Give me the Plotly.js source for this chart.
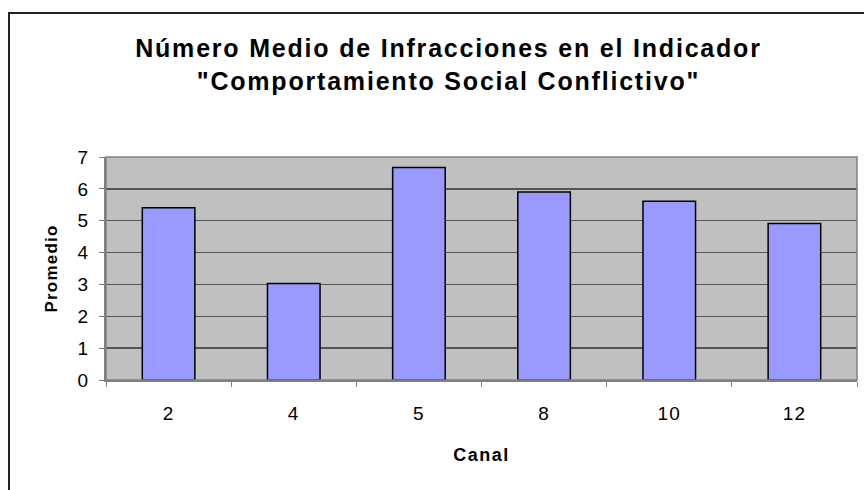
<!DOCTYPE html>
<html>
<head>
<meta charset="utf-8">
<script src="https://cdn.plot.ly/plotly-3.0.1.min.js"></script>
<style>
html,body{margin:0;padding:0;background:#fff;}
#chart{width:864px;height:490px;}
#chart .gtitle{letter-spacing:1.8px;}
#chart .xtick text,#chart .ytick text{letter-spacing:1.2px;}
#chart .xtitle{letter-spacing:1.5px;}
#chart .ytitle{letter-spacing:1.2px;}
</style>
</head>
<body>
<div id="chart"></div>
<script>
const categories = ["2", "4", "5", "8", "10", "12"];
const promedio = [5.41, 3.03, 6.67, 5.90, 5.61, 4.91];
const yTicks = [0, 1, 2, 3, 4, 5, 6, 7];

const trace = {
  type: 'bar',
  x: categories,
  y: promedio,
  marker: {color: '#9999FF', line: {color: '#000000', width: 1.5}},
  hoverinfo: 'x+y'
};

const font = 'Liberation Sans, Arial, sans-serif';
const layout = {
  width: 864, height: 490,
  margin: {l: 106, r: 7, t: 157, b: 110, pad: 0},
  paper_bgcolor: '#ffffff',
  plot_bgcolor: '#C0C0C0',
  bargap: 0.58,
  showlegend: false,
  font: {family: font, color: '#000'},
  title: {
    text: 'Número Medio de Infracciones en el Indicador<br>"Comportamiento Social Conflictivo"',
    font: {family: font, size: 25, color: '#000', weight: 'bold'},
    x: 0.456, xanchor: 'center', xref: 'paper',
    y: 0.883, yanchor: 'middle', yref: 'container'
  },
  xaxis: {
    type: 'category',
    tickson: 'boundaries',
    ticks: 'outside', ticklen: 5, tickcolor: '#808080', tickwidth: 1,
    showline: true, linecolor: '#808080', linewidth: 2,
    showgrid: false,
    tickfont: {family: font, size: 19, color: '#000'},
    ticklabelstandoff: 15,
    title: {text: 'Canal', font: {family: font, size: 18, weight: 'bold', color: '#000'}, standoff: 26},
    mirror: false
  },
  yaxis: {
    range: [0, 7],
    tickvals: yTicks,
    ticks: 'outside', ticklen: 5, tickcolor: '#808080', tickwidth: 1,
    showline: true, linecolor: '#808080', linewidth: 2,
    showgrid: true, gridcolor: '#555555', gridwidth: 1.5,
    zeroline: false,
    tickfont: {family: font, size: 19, color: '#000'},
    ticklabelstandoff: 6,
    title: {text: 'Promedio', font: {family: font, size: 17, weight: 'bold', color: '#000'}, standoff: 17}
  },
  shapes: [
    {type: 'rect', xref: 'paper', yref: 'paper', x0: 0, x1: 1, y0: 0, y1: 1,
     line: {color: '#808080', width: 1.5}, fillcolor: 'rgba(0,0,0,0)', layer: 'above'},
    {type: 'rect', xref: 'paper', yref: 'paper',
     x0: (9 - 106) / 751, x1: 1.2, y0: -1, y1: (380 - 13) / 223,
     line: {color: '#222222', width: 2}, fillcolor: 'rgba(0,0,0,0)', layer: 'above'}
  ]
};

Plotly.newPlot('chart', [trace], layout, {displayModeBar: false, staticPlot: true});
</script>
</body>
</html>
